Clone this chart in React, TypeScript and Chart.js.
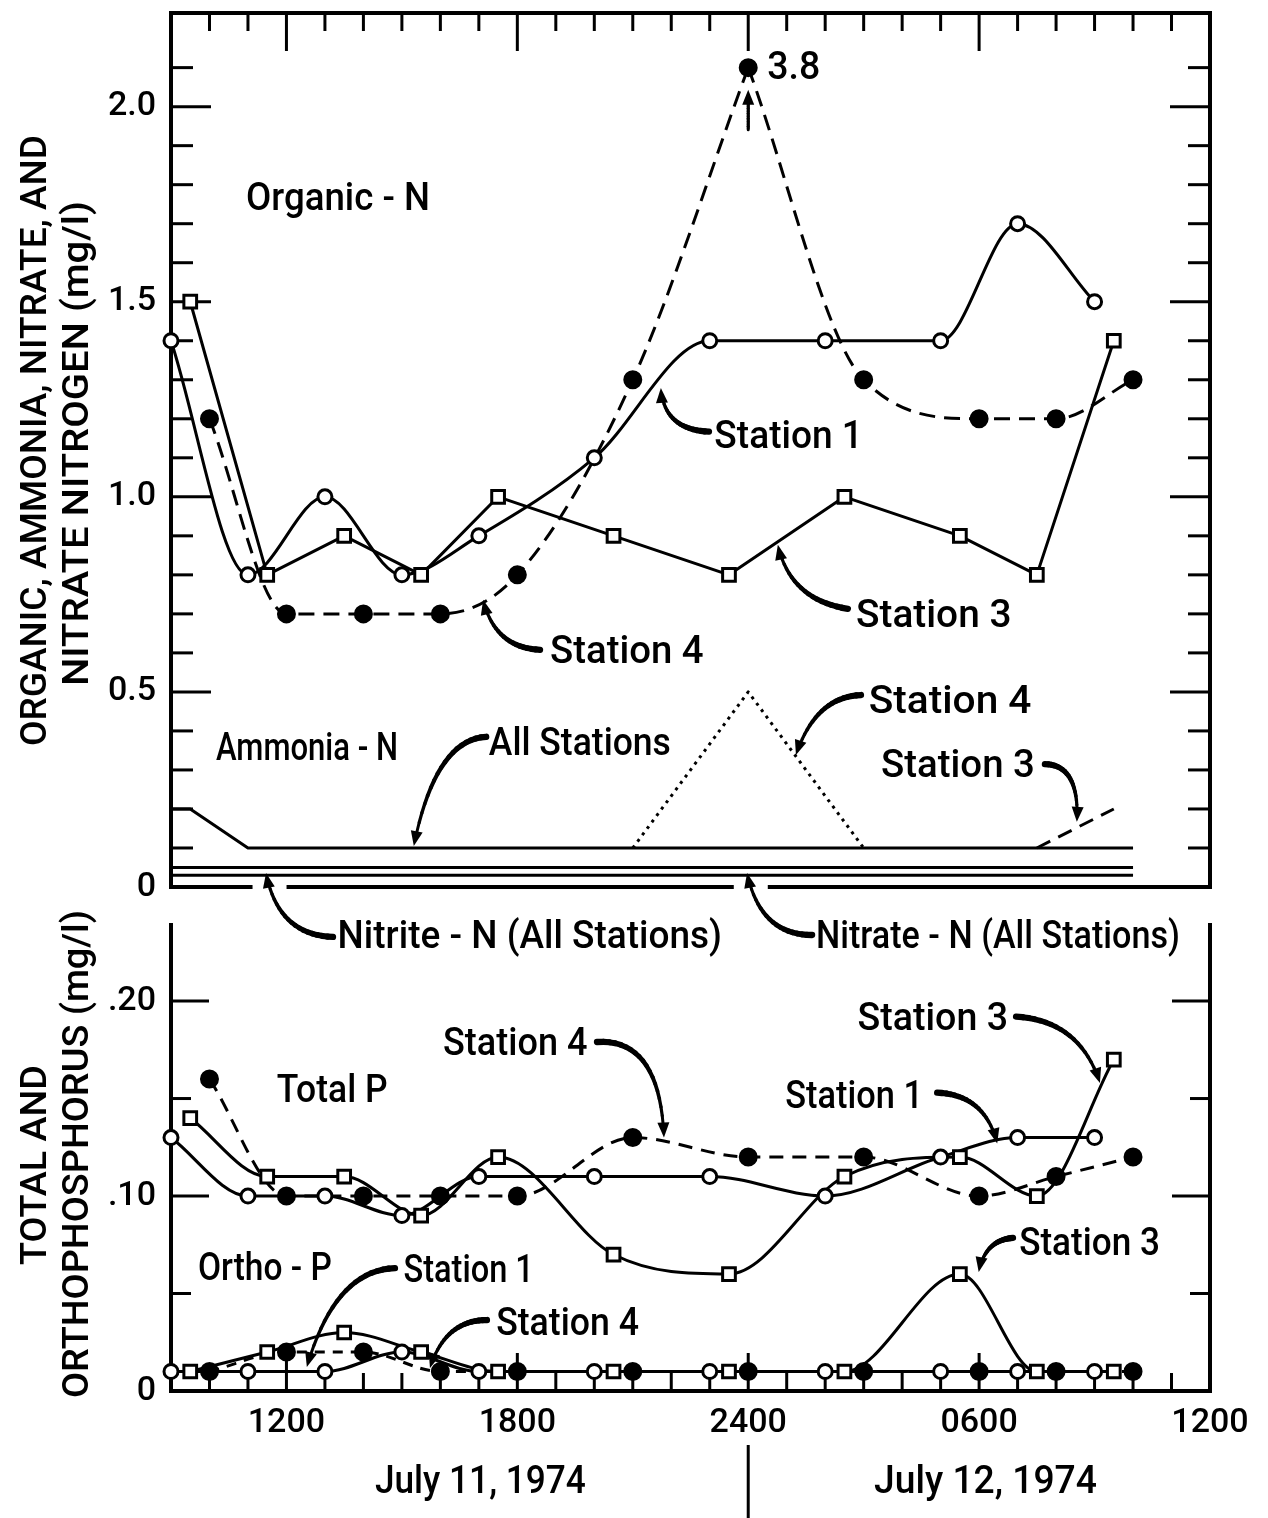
import React, { useEffect, useRef } from 'react';
import { Chart, registerables } from 'chart.js';

Chart.register(...registerables);

const FONT_FAMILY = 'Roboto, "DejaVu Sans", Arial, sans-serif';
const FONT_WEIGHT = 500;
const CAP_RATIO = 0.711;

// ---------------- axes ----------------
// time in hours from 0000 July 11 (24 = midnight, 36 = 1200 July 12)
const X_MIN = 9;
const X_MAX = 36;
const X_LABEL_HOURS = [12, 18, 24, 30, 36];
const X_LABELS = ['1200', '1800', '2400', '0600', '1200'];
const DATE_LABELS = ['July 11, 1974', 'July 12, 1974'];

const N_MAX = 2.24;
const N_LABEL_VALUES = [0, 0.5, 1.0, 1.5, 2.0];
const N_LABELS = ['0', '0.5', '1.0', '1.5', '2.0'];
const P_MAX = 0.239;
const P_LABEL_VALUES = [0, 0.1, 0.2];
const P_LABELS = ['0', '.10', '.20'];

const TOP_TITLE = ['ORGANIC, AMMONIA, NITRATE, AND', 'NITRATE NITROGEN (mg/l)'];
const BOTTOM_TITLE = ['TOTAL AND', 'ORTHOPHOSPHORUS (mg/l)'];

// ---------------- sampling times ----------------
const ST1_HOURS = [9, 11, 13, 15, 17, 20, 23, 26, 29, 31, 33];
const ST3_HOURS = [9.5, 11.5, 13.5, 15.5, 17.5, 20.5, 23.5, 26.5, 29.5, 31.5, 33.5];
const ST4_HOURS = [10, 12, 14, 16, 18, 21, 24, 27, 30, 32, 34];

// ---------------- nitrogen (mg/l) ----------------
const ORGANIC_N_ST1 = [1.4, 0.8, 1.0, 0.8, 0.9, 1.1, 1.4, 1.4, 1.4, 1.7, 1.5];
const ORGANIC_N_ST3 = [1.5, 0.8, 0.9, 0.8, 1.0, 0.9, 0.8, 1.0, 0.9, 0.8, 1.4];
const ORGANIC_N_ST4 = [1.2, 0.7, 0.7, 0.7, 0.8, 1.3, 3.8, 1.3, 1.2, 1.2, 1.3];
const ORGANIC_N_CEILING = 2.1; // off-scale values are plotted here

const AMMONIA_ALL_HOURS = [9, 9.5, 11, 34];
const AMMONIA_ALL = [0.2, 0.2, 0.1, 0.1];
const AMMONIA_ST4_HOURS = [21, 24, 27];
const AMMONIA_ST4 = [0.1, 0.5, 0.1];
const AMMONIA_ST3_HOURS = [31.5, 33.5];
const AMMONIA_ST3 = [0.1, 0.2];
const NITRITE_NITRATE_HOURS = [9, 34];
const NITRATE_N = [0.05, 0.05];
const NITRITE_N = [0.03, 0.03];

// ---------------- phosphorus (mg/l) ----------------
const TOTAL_P_ST1 = [0.13, 0.10, 0.10, 0.09, 0.11, 0.11, 0.11, 0.10, 0.12, 0.13, 0.13];
const TOTAL_P_ST3 = [0.14, 0.11, 0.11, 0.09, 0.12, 0.07, 0.06, 0.11, 0.12, 0.10, 0.17];
const TOTAL_P_ST4 = [0.16, 0.10, 0.10, 0.10, 0.10, 0.13, 0.12, 0.12, 0.10, 0.11, 0.12];
const ORTHO_P_ST1 = [0.01, 0.01, 0.01, 0.02, 0.01, 0.01, 0.01, 0.01, 0.01, 0.01, 0.01];
const ORTHO_P_ST3 = [0.01, 0.02, 0.03, 0.02, 0.01, 0.01, 0.01, 0.01, 0.06, 0.01, 0.01];
const ORTHO_P_ST4 = [0.01, 0.02, 0.02, 0.01, 0.01, 0.01, 0.01, 0.01, 0.01, 0.01, 0.01];

// ---------------- annotations (in data coordinates) ----------------
type XY = [number, number];
type Note = { text: string; h1: number; h2: number; v: number };
type Arrow = { from: XY; via: XY; to: XY };

const TOP_NOTES: Note[] = [
  { text: 'Organic - N', h1: 10.95, h2: 15.73, v: 1.736 },
  { text: 'Station 1', h1: 23.12, h2: 26.98, v: 1.126 },
  { text: 'Station 3', h1: 26.8, h2: 30.84, v: 0.667 },
  { text: 'Station 4', h1: 18.85, h2: 22.84, v: 0.574 },
  { text: 'Ammonia - N', h1: 10.17, h2: 14.9, v: 0.326 },
  { text: 'All Stations', h1: 17.26, h2: 21.99, v: 0.338 },
  { text: 'Station 4', h1: 27.13, h2: 31.36, v: 0.446 },
  { text: 'Station 3', h1: 27.45, h2: 31.45, v: 0.282 },
  { text: 'Nitrite - N (All Stations)', h1: 13.33, h2: 23.32, v: -0.156 },
  { text: 'Nitrate - N (All Stations)', h1: 25.76, h2: 35.22, v: -0.156 },
];
const TOP_ARROWS: Arrow[] = [
  { from: [22.98, 1.167], via: [21.81, 1.172], to: [21.73, 1.279] },
  { from: [26.59, 0.713], via: [25.09, 0.736], to: [24.77, 0.877] },
  { from: [18.59, 0.608], via: [17.42, 0.613], to: [17.11, 0.736] },
  { from: [17.19, 0.385], via: [15.86, 0.377], to: [15.31, 0.105] },
  { from: [26.93, 0.492], via: [25.74, 0.487], to: [25.24, 0.338] },
  { from: [31.71, 0.315], via: [32.62, 0.313], to: [32.54, 0.167] },
  { from: [13.21, -0.128], via: [11.78, -0.123], to: [11.47, 0.036] },
  { from: [25.66, -0.123], via: [24.31, -0.123], to: [23.97, 0.036] },
];
const BOTTOM_NOTES: Note[] = [
  { text: 'Total P', h1: 11.75, h2: 14.63, v: 0.1482 },
  { text: 'Station 4', h1: 16.07, h2: 19.82, v: 0.1723 },
  { text: 'Station 3', h1: 26.84, h2: 30.75, v: 0.1851 },
  { text: 'Station 1', h1: 24.96, h2: 28.54, v: 0.1451 },
  { text: 'Ortho - P', h1: 9.7, h2: 13.18, v: 0.0569 },
  { text: 'Station 1', h1: 15.04, h2: 18.43, v: 0.0559 },
  { text: 'Station 4', h1: 17.45, h2: 21.16, v: 0.0287 },
  { text: 'Station 3', h1: 31.04, h2: 34.7, v: 0.0697 },
];
const BOTTOM_ARROWS: Arrow[] = [
  { from: [20.07, 0.179], via: [21.71, 0.181], to: [21.81, 0.13] },
  { from: [30.96, 0.192], via: [32.62, 0.19], to: [33.14, 0.158] },
  { from: [28.91, 0.153], via: [30.15, 0.152], to: [30.47, 0.127] },
  { from: [14.82, 0.063], via: [13.26, 0.062], to: [12.53, 0.0123] },
  { from: [17.21, 0.0364], via: [16.12, 0.0364], to: [15.73, 0.0118] },
  { from: [30.88, 0.0785], via: [30.15, 0.0774], to: [29.99, 0.061] },
];
const DATE_SPANS: XY[] = [[14.3, 19.78], [27.27, 33.06]];
const DATE_BASE = -0.0523;
const DAY_SPLIT_HOUR = 24;

// ---------------- helpers ----------------
const pts = (hs: number[], vs: number[], ceil = Infinity) =>
  hs.map((h, i) => ({ x: h, y: Math.min(vs[i], ceil) }));

function lineDs(data: any[], extra: any = {}) {
  return {
    data,
    borderColor: '#000',
    borderWidth: 3,
    pointRadius: 0,
    pointHoverRadius: 0,
    fill: false,
    clip: false,
    tension: 0,
    borderJoinStyle: 'round',
    ...extra,
  };
}

function markDs(data: any[], kind: 'open' | 'square' | 'filled') {
  const r = kind === 'square' ? 9 : kind === 'open' ? 7 : 8;
  return {
    data,
    showLine: false,
    clip: false,
    pointStyle: kind === 'square' ? 'rect' : 'circle',
    pointRadius: r,
    pointHoverRadius: r,
    pointBorderWidth: 3,
    pointBorderColor: '#000',
    pointBackgroundColor: kind === 'filled' ? '#000' : '#fff',
    borderColor: '#000',
  };
}

function line(ctx: CanvasRenderingContext2D, x1: number, y1: number, x2: number, y2: number) {
  ctx.beginPath();
  ctx.moveTo(x1, y1);
  ctx.lineTo(x2, y2);
  ctx.stroke();
}

function quad(p0: XY, p1: XY, p2: XY, t: number): XY {
  const u = 1 - t;
  return [
    u * u * p0[0] + 2 * u * t * p1[0] + t * t * p2[0],
    u * u * p0[1] + 2 * u * t * p1[1] + t * t * p2[1],
  ];
}

function toPx(chart: any, p: XY): XY {
  return [chart.scales.x.getPixelForValue(p[0]), chart.scales.y.getPixelForValue(p[1])];
}

function stretchText(
  ctx: CanvasRenderingContext2D,
  text: string,
  x: number,
  y: number,
  width: number,
  cap: number,
  rotate = false
) {
  const size = cap / CAP_RATIO;
  ctx.save();
  ctx.font = `${FONT_WEIGHT} ${size}px ${FONT_FAMILY}`;
  const w = ctx.measureText(text).width || 1;
  ctx.translate(x, y);
  if (rotate) ctx.rotate(-Math.PI / 2);
  ctx.scale(width / w, 1);
  ctx.textAlign = 'left';
  ctx.textBaseline = 'alphabetic';
  ctx.fillStyle = '#000';
  ctx.fillText(text, 0, 0);
  ctx.restore();
}

function drawArrowPx(ctx: CanvasRenderingContext2D, p0: XY, p1: XY, p2: XY, w0 = 6.5, w1 = 3) {
  const headL = 15;
  const headW = 6;
  const len = Math.hypot(p1[0] - p0[0], p1[1] - p0[1]) + Math.hypot(p2[0] - p1[0], p2[1] - p1[1]);
  const tEnd = Math.max(0.5, 1 - (headL * 0.7) / len);
  const N = 18;
  ctx.save();
  ctx.strokeStyle = '#000';
  ctx.fillStyle = '#000';
  ctx.lineCap = 'round';
  let prev = quad(p0, p1, p2, 0);
  for (let i = 1; i <= N; i++) {
    const pt = quad(p0, p1, p2, (tEnd * i) / N);
    ctx.lineWidth = w0 + ((w1 - w0) * i) / N;
    line(ctx, prev[0], prev[1], pt[0], pt[1]);
    prev = pt;
  }
  let dx = p2[0] - p1[0];
  let dy = p2[1] - p1[1];
  const d = Math.hypot(dx, dy) || 1;
  dx /= d;
  dy /= d;
  const bx = p2[0] - dx * headL;
  const by = p2[1] - dy * headL;
  ctx.beginPath();
  ctx.moveTo(p2[0], p2[1]);
  ctx.lineTo(bx - dy * headW, by + dx * headW);
  ctx.lineTo(bx + dy * headW, by - dx * headW);
  ctx.closePath();
  ctx.fill();
  ctx.restore();
}

function drawArrow(chart: any, a: Arrow) {
  drawArrowPx(chart.ctx, toPx(chart, a.from), toPx(chart, a.via), toPx(chart, a.to));
}

function drawNote(chart: any, n: Note, cap = 28) {
  const xs = chart.scales.x;
  const ys = chart.scales.y;
  const x1 = xs.getPixelForValue(n.h1);
  const x2 = xs.getPixelForValue(n.h2);
  stretchText(chart.ctx, n.text, x1, ys.getPixelForValue(n.v), x2 - x1, cap);
}

const HOUR_TICKS: number[] = [];
for (let h = X_MIN + 1; h < X_MAX; h++) HOUR_TICKS.push(h);

// ---------------- plugins ----------------
const topPlugin = {
  id: 'topDecor',
  beforeDatasetsDraw(chart: any) {
    const ctx: CanvasRenderingContext2D = chart.ctx;
    const xs = chart.scales.x;
    const ys = chart.scales.y;
    const { left, right, top, bottom } = chart.chartArea;
    ctx.save();
    ctx.strokeStyle = '#000';
    ctx.lineWidth = 4;
    ctx.lineCap = 'square';
    ctx.beginPath();
    ctx.moveTo(left, bottom);
    ctx.lineTo(left, top);
    ctx.lineTo(right, top);
    ctx.lineTo(right, bottom);
    ctx.stroke();
    // bottom border, broken where the label arrows cross it
    const gaps: number[] = [];
    for (const a of TOP_ARROWS) {
      const p0 = toPx(chart, a.from);
      const p1 = toPx(chart, a.via);
      const p2 = toPx(chart, a.to);
      for (let i = 0; i < 200; i++) {
        const A = quad(p0, p1, p2, i / 200);
        const B = quad(p0, p1, p2, (i + 1) / 200);
        if ((A[1] - bottom) * (B[1] - bottom) <= 0 && A[1] !== B[1]) {
          gaps.push(A[0] + ((B[0] - A[0]) * (bottom - A[1])) / (B[1] - A[1]));
          break;
        }
      }
    }
    gaps.sort((a, b) => a - b);
    ctx.lineCap = 'butt';
    let x0 = left - 2;
    for (const g of gaps) {
      line(ctx, x0, bottom, g - 17, bottom);
      x0 = g + 17;
    }
    line(ctx, x0, bottom, right + 2, bottom);
    // inward ticks
    ctx.lineWidth = 3;
    for (const h of HOUR_TICKS) {
      const x = xs.getPixelForValue(h);
      const len = X_LABEL_HOURS.includes(h) ? 38 : 18;
      line(ctx, x, top, x, top + len);
    }
    for (let k = 1; k <= 21; k++) {
      const y = ys.getPixelForValue(k / 10);
      const len = k % 5 === 0 ? 40 : 22;
      line(ctx, left, y, left + len, y);
      line(ctx, right, y, right - len, y);
    }
    ctx.restore();
  },
  afterDatasetsDraw(chart: any) {
    const ctx: CanvasRenderingContext2D = chart.ctx;
    const xs = chart.scales.x;
    const ys = chart.scales.y;
    TOP_NOTES.forEach((n) => drawNote(chart, n));
    TOP_ARROWS.forEach((a) => drawArrow(chart, a));
    // off-scale value
    ORGANIC_N_ST4.forEach((v, i) => {
      if (v <= ORGANIC_N_CEILING) return;
      const x = xs.getPixelForValue(ST4_HOURS[i]);
      const y = ys.getPixelForValue(ORGANIC_N_CEILING);
      stretchText(ctx, String(v), x + 19, y + 11, 53, 28);
      drawArrowPx(ctx, [x, y + 62], [x, y + 42], [x, y + 22], 3, 3);
    });
    // y title
    stretchText(ctx, TOP_TITLE[0], 46, 746, 611, 26, true);
    stretchText(ctx, TOP_TITLE[1], 88, 686, 485, 26, true);
  },
};

const bottomPlugin = {
  id: 'bottomDecor',
  beforeDatasetsDraw(chart: any) {
    const ctx: CanvasRenderingContext2D = chart.ctx;
    const xs = chart.scales.x;
    const ys = chart.scales.y;
    const { left, right, top, bottom } = chart.chartArea;
    ctx.save();
    ctx.strokeStyle = '#000';
    ctx.lineWidth = 4;
    ctx.lineCap = 'square';
    ctx.beginPath();
    ctx.moveTo(left, top);
    ctx.lineTo(left, bottom);
    ctx.lineTo(right, bottom);
    ctx.lineTo(right, top);
    ctx.stroke();
    ctx.lineCap = 'butt';
    ctx.lineWidth = 3;
    for (const h of HOUR_TICKS) {
      const x = xs.getPixelForValue(h);
      const len = X_LABEL_HOURS.includes(h) ? 38 : 18;
      line(ctx, x, bottom, x, bottom - len);
    }
    for (let k = 1; k <= 4; k++) {
      const y = ys.getPixelForValue(k * 0.05);
      const len = k % 2 === 0 ? 38 : 20;
      line(ctx, left, y, left + len, y);
      line(ctx, right, y, right - len, y);
    }
    ctx.restore();
  },
  afterDatasetsDraw(chart: any) {
    const ctx: CanvasRenderingContext2D = chart.ctx;
    const xs = chart.scales.x;
    const ys = chart.scales.y;
    BOTTOM_NOTES.forEach((n) => drawNote(chart, n));
    BOTTOM_ARROWS.forEach((a) => drawArrow(chart, a));
    DATE_LABELS.forEach((t, i) => {
      const x1 = xs.getPixelForValue(DATE_SPANS[i][0]);
      const x2 = xs.getPixelForValue(DATE_SPANS[i][1]);
      stretchText(ctx, t, x1, ys.getPixelForValue(DATE_BASE), x2 - x1, 27);
    });
    const sx = xs.getPixelForValue(DAY_SPLIT_HOUR);
    ctx.save();
    ctx.strokeStyle = '#000';
    ctx.lineWidth = 3;
    line(ctx, sx, ys.getPixelForValue(-0.0277), sx, chart.height);
    ctx.restore();
    // y title (canvas starts at page y = 900)
    stretchText(ctx, BOTTOM_TITLE[0], 46, 1265 - 900, 200, 26, true);
    stretchText(ctx, BOTTOM_TITLE[1], 88, 1398 - 900, 488, 26, true);
  },
};

const tickFont = { family: FONT_FAMILY, size: 34, weight: FONT_WEIGHT };

function yScale(max: number, values: number[], labels: string[]) {
  return {
    type: 'linear',
    min: 0,
    max,
    grid: { display: false, drawTicks: false },
    border: { display: false },
    afterBuildTicks: (s: any) => {
      s.ticks = values.map((v) => ({ value: v }));
    },
    afterFit: (s: any) => {
      s.width = 171;
      s.paddingTop = 0;
      s.paddingBottom = 0;
    },
    ticks: {
      autoSkip: false,
      padding: 15,
      color: '#000',
      font: tickFont,
      callback: (v: number) => {
        const i = values.findIndex((t) => Math.abs(t - v) < 1e-9);
        return i >= 0 ? labels[i] : '';
      },
    },
  };
}

const baseOptions = {
  animation: false,
  responsive: false,
  devicePixelRatio: 1,
  events: [],
  plugins: { legend: { display: false }, tooltip: { enabled: false } },
};

function topConfig(): any {
  const st4 = pts(ST4_HOURS, ORGANIC_N_ST4, ORGANIC_N_CEILING);
  const peak = ORGANIC_N_ST4.indexOf(Math.max(...ORGANIC_N_ST4));
  return {
    type: 'line',
    data: {
      datasets: [
        markDs(pts(ST1_HOURS, ORGANIC_N_ST1), 'open'),
        markDs(pts(ST3_HOURS, ORGANIC_N_ST3), 'square'),
        markDs(st4, 'filled'),
        lineDs(pts(ST1_HOURS, ORGANIC_N_ST1), { cubicInterpolationMode: 'monotone' }),
        lineDs(pts(ST3_HOURS, ORGANIC_N_ST3)),
        lineDs(st4.slice(0, peak + 1), { cubicInterpolationMode: 'monotone', borderDash: [16, 9] }),
        lineDs(st4.slice(peak), { cubicInterpolationMode: 'monotone', borderDash: [16, 9] }),
        lineDs(pts(AMMONIA_ALL_HOURS, AMMONIA_ALL)),
        lineDs(pts(AMMONIA_ST4_HOURS, AMMONIA_ST4), { borderDash: [3, 5] }),
        lineDs(pts(AMMONIA_ST3_HOURS, AMMONIA_ST3), { borderDash: [15, 9] }),
        lineDs(pts(NITRITE_NITRATE_HOURS, NITRATE_N)),
        lineDs(pts(NITRITE_NITRATE_HOURS, NITRITE_N)),
      ],
    },
    options: {
      ...baseOptions,
      layout: { padding: { left: 0, top: 13, right: 58, bottom: 73 } },
      scales: {
        x: { type: 'linear', min: X_MIN, max: X_MAX, display: false },
        y: yScale(N_MAX, N_LABEL_VALUES, N_LABELS),
      },
    },
    plugins: [topPlugin],
  };
}

function bottomConfig(): any {
  return {
    type: 'line',
    data: {
      datasets: [
        markDs(pts(ST1_HOURS, TOTAL_P_ST1), 'open'),
        markDs(pts(ST3_HOURS, TOTAL_P_ST3), 'square'),
        markDs(pts(ST4_HOURS, TOTAL_P_ST4), 'filled'),
        markDs(pts(ST1_HOURS, ORTHO_P_ST1), 'open'),
        markDs(pts(ST3_HOURS, ORTHO_P_ST3), 'square'),
        markDs(pts(ST4_HOURS, ORTHO_P_ST4), 'filled'),
        lineDs(pts(ST1_HOURS, TOTAL_P_ST1), { cubicInterpolationMode: 'monotone' }),
        lineDs(pts(ST3_HOURS, TOTAL_P_ST3), { cubicInterpolationMode: 'monotone' }),
        lineDs(pts(ST4_HOURS, TOTAL_P_ST4), { cubicInterpolationMode: 'monotone', borderDash: [14, 9] }),
        lineDs(pts(ST1_HOURS, ORTHO_P_ST1), { cubicInterpolationMode: 'monotone' }),
        lineDs(pts(ST3_HOURS, ORTHO_P_ST3), { cubicInterpolationMode: 'monotone' }),
        lineDs(pts(ST4_HOURS, ORTHO_P_ST4), { cubicInterpolationMode: 'monotone', borderDash: [10, 8] }),
      ],
    },
    options: {
      ...baseOptions,
      layout: { padding: { left: 0, top: 25, right: 58, bottom: 0 } },
      scales: {
        x: {
          type: 'linear',
          min: X_MIN,
          max: X_MAX,
          position: 'bottom',
          grid: { display: false, drawTicks: false },
          border: { display: false },
          afterBuildTicks: (s: any) => {
            s.ticks = X_LABEL_HOURS.map((v) => ({ value: v }));
          },
          afterFit: (s: any) => {
            s.height = 127;
            s.paddingLeft = 0;
            s.paddingRight = 0;
          },
          ticks: {
            autoSkip: false,
            maxRotation: 0,
            minRotation: 0,
            padding: 12,
            color: '#000',
            font: tickFont,
            callback: (v: number) => {
              const i = X_LABEL_HOURS.indexOf(v);
              return i >= 0 ? X_LABELS[i] : '';
            },
          },
        },
        y: yScale(P_MAX, P_LABEL_VALUES, P_LABELS),
      },
    },
    plugins: [bottomPlugin],
  };
}

export default function App() {
  const topRef = useRef<HTMLCanvasElement>(null);
  const botRef = useRef<HTMLCanvasElement>(null);
  useEffect(() => {
    document.body.style.margin = '0';
    Chart.defaults.font.family = FONT_FAMILY;
    Chart.defaults.color = '#000';
    const c1 = new Chart(topRef.current as HTMLCanvasElement, topConfig());
    const c2 = new Chart(botRef.current as HTMLCanvasElement, bottomConfig());
    return () => {
      c1.destroy();
      c2.destroy();
    };
  }, []);
  return (
    <div style={{ position: 'relative', width: 1268, height: 1518, background: '#fff', overflow: 'hidden' }}>
      <canvas ref={topRef} width={1268} height={960} style={{ position: 'absolute', left: 0, top: 0 }} />
      <canvas ref={botRef} width={1268} height={618} style={{ position: 'absolute', left: 0, top: 900 }} />
    </div>
  );
}
